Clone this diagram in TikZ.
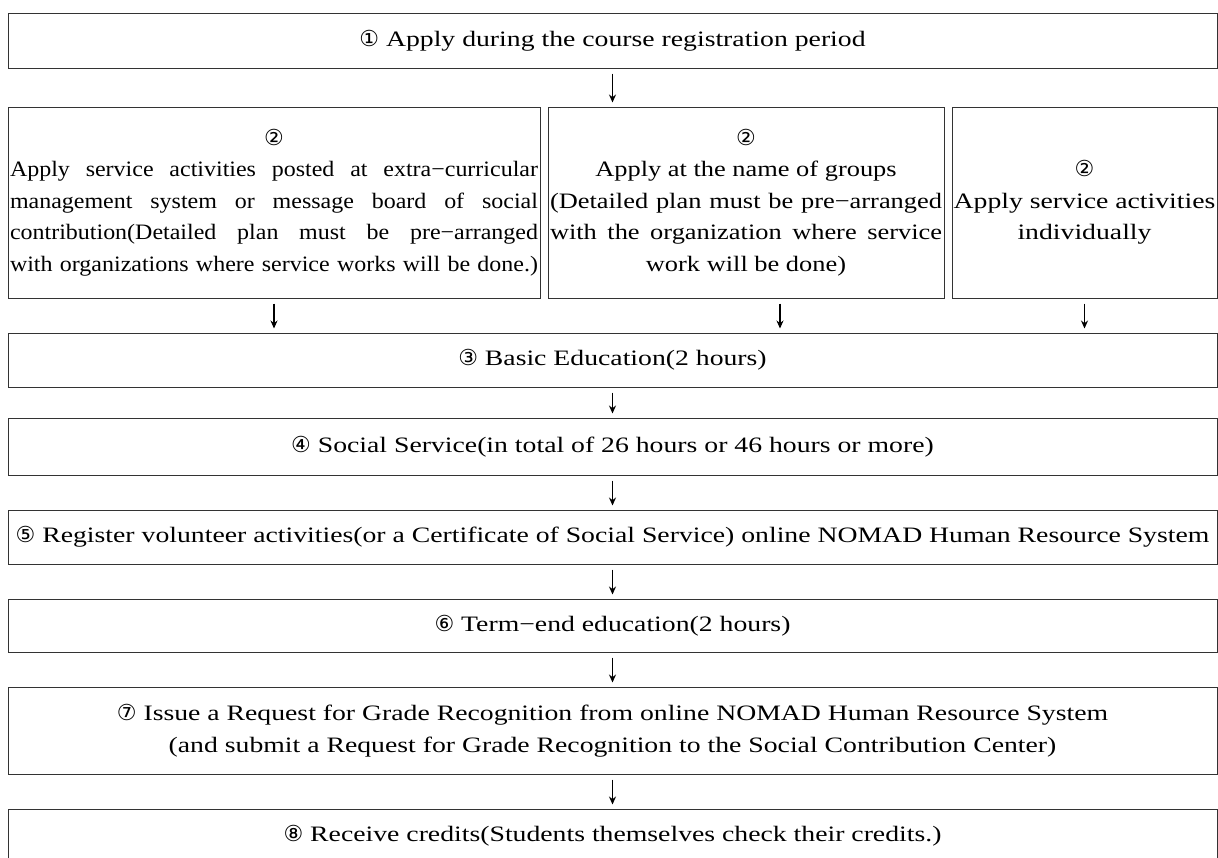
\documentclass[tikz,border=0pt]{standalone}
\usepackage{fontspec}
\setmainfont{Liberation Serif}[FakeStretch=1.26]
\newfontfamily\fonta{Liberation Serif}[FakeStretch=1.09]
\newfontfamily\fontb{Liberation Serif}[FakeStretch=1.2]
\newfontfamily\circfont{DejaVu Sans}
\usetikzlibrary{arrows.meta}
\newcommand{\cnum}[1]{{\circfont #1}}
\newcommand{\jline}[2]{\makebox[#1][s]{#2}}
\begin{document}
\begin{tikzpicture}[x=1pt,y=-1pt,
  box/.style={draw=black!80, line width=1pt, inner sep=0pt, align=center,
    font=\fontsize{22}{31.5}\selectfont},
  arr/.style={-{Stealth[length=8pt,width=7pt]}, line width=1.3pt,
    shorten <=5pt, shorten >=4pt}]
\useasboundingbox (0,0) rectangle (1218,857);
\node[box, minimum width=1209pt, minimum height=55pt] (s1) at (612.5,40.5)
  {\cnum{①} Apply during the course registration period};
\node[box, minimum width=532pt, minimum height=191pt,
  font=\fonta\fontsize{22}{31.5}\selectfont] (s2a) at (274,202.5)
  {\cnum{②}\\\jline{528pt}{Apply service activities posted at extra−curricular}\\\jline{528pt}{management system or message board of social}\\\jline{528pt}{contribution(Detailed plan must be pre−arranged}\\\jline{528pt}{with organizations where service works will be done.)}};
\node[box, minimum width=396pt, minimum height=191pt,
  font=\fontb\fontsize{22}{31.5}\selectfont] (s2b) at (746,202.5)
  {\cnum{②}\\Apply at the name of groups\\\jline{392pt}{(Detailed plan must be pre−arranged}\\\jline{392pt}{with the organization where service}\\work will be done)};
\node[box, minimum width=265pt, minimum height=191pt] (s2c) at (1084.5,202.5)
  {\cnum{②}\\Apply service activities\\individually};
\node[box, minimum width=1209pt, minimum height=54pt] (s3) at (612.5,360)
  {\cnum{③} Basic Education(2 hours)};
\node[box, minimum width=1209pt, minimum height=57pt] (s4) at (612.5,446.5)
  {\cnum{④} Social Service(in total of 26 hours or 46 hours or more)};
\node[box, minimum width=1209pt, minimum height=54pt] (s5) at (612.5,537)
  {\cnum{⑤} Register volunteer activities(or a Certificate of Social Service) online NOMAD Human Resource System};
\node[box, minimum width=1209pt, minimum height=53pt] (s6) at (612.5,625.5)
  {\cnum{⑥} Term−end education(2 hours)};
\node[box, minimum width=1209pt, minimum height=87pt] (s7) at (612.5,730.5)
  {\cnum{⑦} Issue a Request for Grade Recognition from online NOMAD Human Resource System\\(and submit a Request for Grade Recognition to the Social Contribution Center)};
\node[box, minimum width=1209pt, minimum height=54pt] (s8) at (612.5,836)
  {\cnum{⑧} Receive credits(Students themselves check their credits.)};
\draw[arr] (s1.south) -- (s1.south |- s2b.north);
\draw[arr] (s2a.south) -- (s2a.south |- s3.north);
\draw[arr] ([xshift=34pt]s2b.south) -- ([xshift=34pt]s2b.south |- s3.north);
\draw[arr] (s2c.south) -- (s2c.south |- s3.north);
\draw[arr] (s3.south) -- (s4.north);
\draw[arr] (s4.south) -- (s5.north);
\draw[arr] (s5.south) -- (s6.north);
\draw[arr] (s6.south) -- (s7.north);
\draw[arr] (s7.south) -- (s8.north);
\end{tikzpicture}
\end{document}
